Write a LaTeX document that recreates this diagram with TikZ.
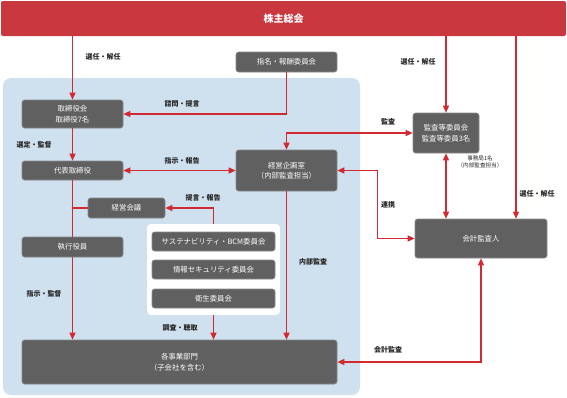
\documentclass[tikz,border=0pt]{standalone}
\usepackage{fontspec}
\newfontfamily\jp{Noto Sans CJK JP}
\usetikzlibrary{arrows.meta}
\definecolor{barred}{HTML}{C8383E}
\definecolor{arrred}{HTML}{D22A32}
\definecolor{boxgray}{HTML}{606060}
\definecolor{boxedge}{HTML}{8A8A8A}
\definecolor{bgblue}{HTML}{CFE0EE}
\tikzset{
  box/.style={draw=boxedge, line width=0.6pt, fill=boxgray, rounded corners=2.5pt, text=white,
    font=\jp\fontsize{7.4}{10.5}\selectfont, align=center, inner sep=0pt},
  lbl/.style={font=\jp\bfseries\fontsize{7}{9}\selectfont, text=black!85, inner sep=0pt, align=center},
  small/.style={font=\jp\fontsize{5.6}{7}\selectfont, text=black!85, inner sep=0pt, align=center},
  conn/.style={draw=arrred, line width=1.3pt},
  arr/.style={conn, -{Triangle[length=7pt,width=6pt]}},
  arrb/.style={conn, {Triangle[length=7pt,width=6pt]}-{Triangle[length=7pt,width=6pt]}},
}
\begin{document}
\begin{tikzpicture}[x=1pt,y=-1pt]
\useasboundingbox (0,0) rectangle (567,397);
% background
\fill[bgblue, rounded corners=8pt] (3,78) rectangle (360,395);
\fill[white, rounded corners=4pt] (147,224) rectangle (280,315);
\node[inner sep=0, minimum width=133pt, minimum height=91pt] (panel) at (213.5,269.5) {};
% top bar
\node[fill=barred, rounded corners=2pt, minimum width=565pt, minimum height=35pt,
  text=white, font=\jp\bfseries\fontsize{10}{12}\selectfont, inner sep=0] (soukai) at (283.5,18.5) {株主総会};
% boxes
\node[box, minimum width=101pt, minimum height=20pt] (shimei) at (286.5,62) {指名・報酬委員会};
\node[box, minimum width=101pt, minimum height=28pt] (torishimari) at (72.5,114) {取締役会\\取締役7名};
\node[box, minimum width=101pt, minimum height=19pt] (daihyo) at (72.5,170.5) {代表取締役};
\node[box, minimum width=101pt, minimum height=41pt] (kikaku) at (286.5,170.5) {経営企画室\\（内部監査担当）};
\node[box, minimum width=77pt, minimum height=20pt] (keiei) at (126.5,208) {経営会議};
\node[box, minimum width=101pt, minimum height=20pt] (shikko) at (72.5,247) {執行役員};
\node[box, minimum width=123pt, minimum height=19pt] (c1) at (213.5,241.5) {サステナビリティ・BCM委員会};
\node[box, minimum width=123pt, minimum height=19pt] (c2) at (213.5,269.5) {情報セキュリティ委員会};
\node[box, minimum width=123pt, minimum height=19pt] (c3) at (213.5,298.5) {衛生委員会};
\node[box, minimum width=315pt, minimum height=44pt] (jigyo) at (179.5,362) {各事業部門\\（子会社を含む）};
\node[box, minimum width=66pt, minimum height=40pt] (kansa) at (446,133) {監査等委員会\\監査等委員3名};
\node[box, minimum width=132pt, minimum height=39pt] (kaikei) at (481,238.5) {会計監査人};
\coordinate (k3) at (516,0);
% connectors
\draw[arr] (soukai.south -| torishimari.north) -- (torishimari.north);
\draw[arr] (shimei.south) |- (torishimari.east);
\draw[arr] (torishimari.south) -- (daihyo.north);
\draw[arrb] (daihyo.east) -- (kikaku.west);
\draw[conn] (daihyo.south) -- (shikko.north);
\draw[conn] (keiei.west) -- (keiei.west -| daihyo.south);
\draw[arr] (shikko.south) -- (shikko.south |- jigyo.north);
\draw[arr] (panel.north) |- (keiei.east);
\draw[arr] (panel.south) -- (panel.south |- jigyo.north);
\draw[arr] (kikaku.south) -- (kikaku.south |- jigyo.north);
\draw[arr] (soukai.south -| kansa.north) -- (kansa.north);
\draw[arrb] (kansa.west) -| (kikaku.north);
\draw[arrb] (kansa.south) -- (kansa.south |- kaikei.north);
\draw[arr] (soukai.south -| k3) -- (kaikei.north -| k3);
\draw[arrb] (kikaku.east) -- ++(40,0) |- (kaikei.west);
\draw[arrb] (kaikei.south) |- (jigyo.east);
% labels
\node[lbl] (l1) at (103,57) {選任・解任};
\node[lbl] (l2) at (182,104) {諮問・提言};
\node[lbl] (l3) at (34,145) {選定・監督};
\node[lbl] (l4) at (182,161) {指示・報告};
\node[lbl] (l5) at (203,198) {提言・報告};
\node[lbl] (l6) at (44,294) {指示・監督};
\node[lbl] (l7) at (180,328) {調査・聴取};
\node[lbl] (l8) at (313,262) {内部監査};
\node[lbl] (l9) at (418,62) {選任・解任};
\node[lbl] (l10) at (388,122) {監査};
\node[small] (l11) at (480,161.5) {事務局1名\\（内部監査担当）};
\node[lbl] (l12) at (537,194) {選任・解任};
\node[lbl] (l13) at (388,205) {連携};
\node[lbl] (l14) at (388,350) {会計監査};
\end{tikzpicture}
\end{document}
